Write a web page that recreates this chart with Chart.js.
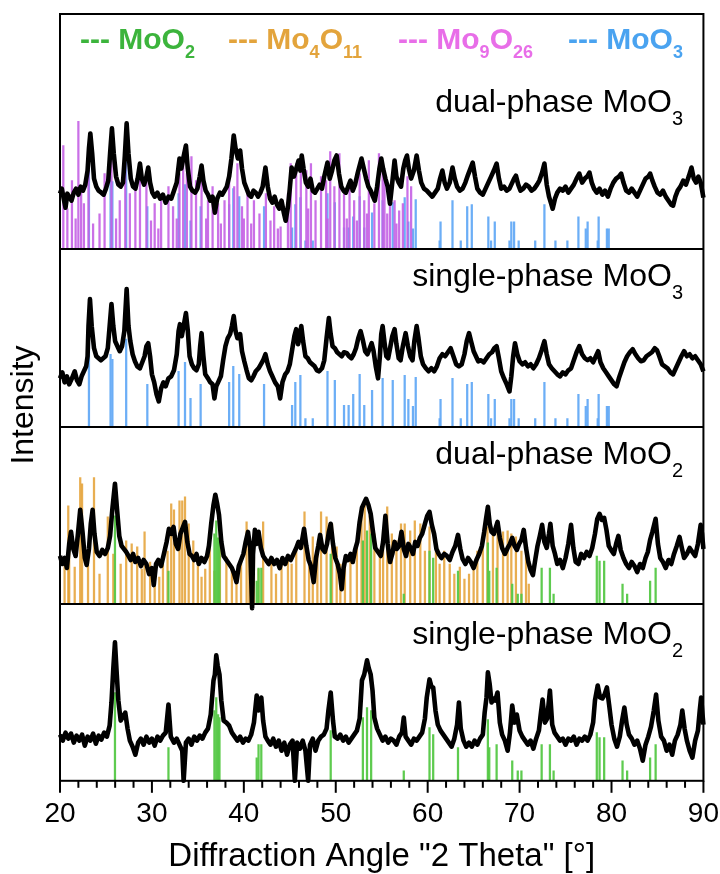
<!DOCTYPE html>
<html>
<head>
<meta charset="utf-8">
<script src="https://cdn.jsdelivr.net/npm/chart.js@4.4.0/dist/chart.umd.min.js"></script>
<style>
 html, body { margin: 0; padding: 0; background: #fff; }
</style>
</head>
<body>
<canvas id="xrd" width="720" height="874"></canvas>
<script>
// 2-theta tick labels
const angleTicks = [20, 30, 40, 50, 60, 70, 80, 90];

// panel names, top to bottom (_n = subscript)
const panelLabels = ['dual-phase MoO_3', 'single-phase MoO_3', 'dual-phase MoO_2', 'single-phase MoO_2'];
// reference phases for the legend
const phaseNames = ['MoO_2', 'Mo_4O_11', 'Mo_9O_26', 'MoO_3'];
const phaseColors = ['#3cb43c', '#e3a43c', '#e86ee8', '#4aa3f0'];
const stickColors = ['rgba(85,200,70,0.95)', 'rgba(228,160,50,0.85)', 'rgba(196,96,228,0.9)', 'rgba(100,170,245,0.95)'];

// measured patterns [2theta, intensity]
const dualMoO3 = [[20.0,55],[20.2,60],[20.4,50],[20.6,41],[20.8,55],[21.0,52],[21.25,48],[21.5,56],[21.75,60],[22.0,54],[22.25,62],[22.5,58],[22.75,64],[23.0,78],[23.15,100],[23.3,115],[23.5,95],[23.7,70],[23.95,62],[24.2,58],[24.5,56],[24.75,54],[25.0,60],[25.25,68],[25.45,95],[25.65,120],[25.85,95],[26.1,72],[26.35,64],[26.6,62],[26.85,66],[27.05,92],[27.25,125],[27.45,95],[27.7,70],[27.95,62],[28.2,60],[28.45,70],[28.7,85],[28.9,70],[29.15,64],[29.4,72],[29.6,81],[29.8,66],[30.05,56],[30.3,52],[30.6,56],[30.9,50],[31.2,54],[31.5,46],[31.8,52],[32.1,50],[32.4,58],[32.7,66],[33.0,90],[33.2,80],[33.45,92],[33.7,103],[33.9,80],[34.15,62],[34.4,58],[34.7,56],[34.95,60],[35.2,72],[35.4,83],[35.6,68],[35.85,58],[36.1,54],[36.35,48],[36.6,52],[36.85,36],[37.1,50],[37.4,56],[37.65,54],[37.9,58],[38.15,62],[38.4,72],[38.65,90],[38.9,113],[39.1,100],[39.35,90],[39.6,98],[39.8,80],[40.05,66],[40.3,60],[40.55,54],[40.8,52],[41.05,58],[41.3,56],[41.55,52],[41.8,56],[42.05,62],[42.35,81],[42.6,62],[42.85,50],[43.1,46],[43.35,52],[43.6,44],[43.85,40],[44.1,48],[44.35,36],[44.55,28],[44.8,42],[45.0,60],[45.2,81],[45.45,72],[45.7,80],[45.95,88],[46.15,78],[46.3,93],[46.5,80],[46.75,66],[47.0,62],[47.25,70],[47.5,58],[47.75,56],[48.0,60],[48.25,64],[48.5,60],[48.75,72],[49.1,86],[49.35,70],[49.6,78],[49.85,88],[50.1,93],[50.35,75],[50.6,62],[50.85,58],[51.1,56],[51.35,62],[51.6,68],[51.85,58],[52.1,64],[52.4,76],[52.8,90],[53.05,80],[53.3,70],[53.55,62],[53.8,58],[54.05,52],[54.25,48],[54.5,62],[54.75,80],[54.95,90],[55.15,80],[55.4,70],[55.65,62],[55.9,45],[56.1,62],[56.4,88],[56.6,72],[56.85,66],[57.1,62],[57.35,80],[57.55,88],[57.75,93],[57.95,80],[58.2,70],[58.5,78],[58.8,93],[59.05,78],[59.3,66],[59.6,60],[59.9,58],[60.2,55],[60.5,52],[60.8,56],[61.1,60],[61.35,70],[61.6,78],[61.85,66],[62.1,60],[62.4,66],[62.7,81],[62.95,70],[63.2,62],[63.5,58],[63.8,60],[64.1,66],[64.4,74],[64.65,80],[64.9,86],[65.15,72],[65.4,60],[65.7,56],[66.0,54],[66.3,60],[66.6,66],[66.9,72],[67.2,78],[67.5,85],[67.75,70],[68.0,60],[68.3,62],[68.6,58],[68.9,60],[69.2,66],[69.4,70],[69.6,73],[69.85,64],[70.1,58],[70.4,60],[70.7,64],[71.0,62],[71.3,58],[71.6,60],[71.9,64],[72.15,68],[72.45,76],[72.7,85],[72.95,64],[73.2,52],[73.4,46],[73.6,40],[73.85,50],[74.1,56],[74.4,60],[74.7,58],[75.0,62],[75.3,56],[75.6,60],[75.9,64],[76.2,70],[76.5,75],[76.8,66],[77.1,70],[77.35,72],[77.6,76],[77.85,66],[78.1,60],[78.4,56],[78.7,60],[79.0,54],[79.3,58],[79.6,52],[79.9,60],[80.2,66],[80.5,70],[80.8,72],[81.05,75],[81.3,66],[81.6,58],[81.9,56],[82.2,60],[82.5,56],[82.8,52],[83.1,58],[83.4,64],[83.7,70],[84.0,72],[84.2,75],[84.45,68],[84.7,62],[85.0,56],[85.3,54],[85.6,58],[85.9,52],[86.2,48],[86.5,44],[86.7,43],[86.95,52],[87.2,58],[87.5,62],[87.8,68],[88.1,64],[88.4,72],[88.7,81],[88.95,70],[89.2,66],[89.45,72],[89.7,66],[90.0,51]];

const singleMoO3 = [[20.0,48],[20.25,54],[20.5,44],[20.75,50],[21.0,42],[21.3,48],[21.6,55],[21.85,46],[22.1,42],[22.35,50],[22.6,55],[22.85,60],[23.0,70],[23.1,100],[23.26,127],[23.45,100],[23.7,78],[23.95,70],[24.2,68],[24.45,66],[24.7,68],[24.95,70],[25.2,78],[25.4,100],[25.6,122],[25.8,100],[26.0,85],[26.25,80],[26.5,75],[26.75,80],[27.0,95],[27.25,137],[27.45,100],[27.65,85],[27.9,72],[28.15,65],[28.4,60],[28.7,58],[28.95,64],[29.2,70],[29.4,80],[29.6,83],[29.8,70],[30.0,52],[30.25,44],[30.5,32],[30.75,25],[31.0,38],[31.25,44],[31.5,40],[31.8,48],[32.1,50],[32.4,56],[32.7,72],[32.9,95],[33.05,102],[33.25,90],[33.45,100],[33.7,113],[33.9,96],[34.1,70],[34.35,62],[34.6,58],[34.85,56],[35.1,62],[35.25,80],[35.4,93],[35.6,70],[35.8,52],[36.1,48],[36.35,44],[36.6,42],[36.8,28],[37.0,40],[37.25,45],[37.5,50],[37.75,66],[38.0,80],[38.25,88],[38.5,92],[38.7,100],[38.9,110],[39.1,95],[39.3,88],[39.5,90],[39.6,92],[39.8,75],[40.05,65],[40.3,56],[40.55,48],[40.8,46],[41.05,50],[41.3,55],[41.6,58],[41.85,62],[42.1,66],[42.35,72],[42.6,62],[42.85,55],[43.1,50],[43.4,44],[43.7,40],[43.95,28],[44.2,44],[44.5,52],[44.75,55],[45.0,62],[45.25,76],[45.5,90],[45.7,97],[45.9,82],[46.05,88],[46.25,100],[46.45,85],[46.7,70],[46.95,68],[47.2,64],[47.45,62],[47.7,60],[47.95,56],[48.2,55],[48.5,58],[48.75,66],[49.0,88],[49.25,108],[49.45,92],[49.65,80],[49.9,78],[50.15,74],[50.4,72],[50.65,70],[50.9,74],[51.2,73],[51.45,70],[51.7,68],[51.95,72],[52.2,78],[52.45,88],[52.7,95],[52.95,86],[53.2,75],[53.45,72],[53.7,78],[53.9,83],[54.1,76],[54.35,60],[54.6,48],[54.8,70],[54.95,92],[55.1,100],[55.3,84],[55.5,70],[55.7,68],[55.95,80],[56.15,90],[56.4,97],[56.6,82],[56.85,68],[57.05,66],[57.3,80],[57.6,93],[57.85,80],[58.1,70],[58.35,66],[58.55,85],[58.8,100],[59.0,88],[59.25,70],[59.5,62],[59.8,58],[60.1,55],[60.4,58],[60.7,55],[61.0,60],[61.3,68],[61.6,72],[61.9,70],[62.2,74],[62.5,78],[62.8,70],[63.1,62],[63.4,60],[63.7,62],[64.0,72],[64.25,85],[64.5,93],[64.75,84],[65.0,75],[65.25,70],[65.5,65],[65.8,66],[66.1,64],[66.4,68],[66.7,72],[67.0,74],[67.25,78],[67.5,80],[67.75,68],[68.0,55],[68.3,48],[68.6,42],[68.9,35],[69.1,50],[69.3,70],[69.5,83],[69.75,72],[70.0,65],[70.3,62],[70.6,64],[70.9,60],[71.2,62],[71.5,58],[71.8,62],[72.1,68],[72.4,76],[72.7,85],[72.95,72],[73.2,62],[73.5,58],[73.8,55],[74.1,52],[74.4,50],[74.7,54],[75.0,52],[75.3,56],[75.6,58],[75.9,66],[76.2,74],[76.5,80],[76.8,72],[77.1,68],[77.4,66],[77.7,68],[78.0,64],[78.3,70],[78.55,75],[78.8,64],[79.1,58],[79.4,54],[79.7,50],[80.0,46],[80.3,42],[80.55,40],[80.8,48],[81.1,56],[81.4,64],[81.7,70],[82.0,74],[82.3,77],[82.6,72],[82.9,68],[83.2,65],[83.5,66],[83.8,70],[84.1,72],[84.4,74],[84.7,78],[84.95,76],[85.2,70],[85.5,62],[85.8,60],[86.1,58],[86.4,54],[86.7,52],[87.0,58],[87.3,64],[87.6,70],[87.9,75],[88.2,70],[88.5,72],[88.8,68],[89.1,70],[89.4,66],[89.7,62],[90.0,55]];

const dualMoO2 = [[20.0,48],[20.25,40],[20.5,46],[20.75,36],[21.0,60],[21.2,72],[21.45,55],[21.7,48],[21.95,70],[22.2,94],[22.45,72],[22.7,46],[22.9,39],[23.15,55],[23.35,80],[23.55,94],[23.75,70],[24.0,52],[24.3,48],[24.6,54],[24.9,50],[25.2,56],[25.45,68],[25.7,95],[25.98,120],[26.2,95],[26.45,68],[26.7,58],[26.95,55],[27.2,52],[27.45,48],[27.7,44],[27.95,50],[28.2,42],[28.5,46],[28.8,38],[29.1,44],[29.4,40],[29.7,30],[30.0,36],[30.2,19],[30.45,40],[30.7,44],[31.0,38],[31.3,50],[31.6,62],[31.85,75],[32.1,70],[32.35,77],[32.6,60],[32.85,55],[33.1,70],[33.35,76],[33.6,82],[33.85,62],[34.1,50],[34.35,48],[34.6,44],[34.85,50],[35.1,40],[35.4,46],[35.7,42],[36.0,48],[36.2,58],[36.45,80],[36.7,99],[36.9,109],[37.1,100],[37.3,89],[37.55,62],[37.8,48],[38.1,44],[38.4,40],[38.7,36],[38.95,30],[39.2,22],[39.45,38],[39.7,44],[39.95,50],[40.2,62],[40.45,72],[40.7,56],[40.9,-4],[41.0,50],[41.2,74],[41.4,60],[41.6,72],[41.85,56],[42.1,48],[42.4,44],[42.7,40],[43.0,46],[43.3,40],[43.6,44],[43.9,36],[44.2,46],[44.5,40],[44.8,48],[45.1,44],[45.4,50],[45.7,56],[45.95,62],[46.2,56],[46.55,75],[46.8,58],[47.05,44],[47.3,38],[47.6,22],[47.85,46],[48.1,58],[48.3,69],[48.55,55],[48.8,52],[49.05,60],[49.25,72],[49.45,80],[49.7,60],[49.95,46],[50.2,40],[50.45,30],[50.65,15],[50.85,36],[51.1,48],[51.35,44],[51.6,50],[51.85,42],[52.1,54],[52.35,62],[52.6,82],[52.85,96],[53.05,100],[53.3,105],[53.55,99],[53.8,90],[54.05,72],[54.3,56],[54.6,52],[54.9,48],[55.15,62],[55.4,88],[55.65,60],[55.9,42],[56.15,50],[56.4,62],[56.65,55],[56.9,58],[57.15,72],[57.4,55],[57.65,48],[57.9,60],[58.15,56],[58.4,50],[58.65,62],[58.9,58],[59.15,66],[59.4,70],[59.7,80],[59.95,88],[60.2,92],[60.45,79],[60.7,70],[60.95,55],[61.2,50],[61.5,46],[61.8,50],[62.1,48],[62.4,44],[62.7,52],[63.0,58],[63.3,69],[63.55,55],[63.8,45],[64.1,40],[64.4,46],[64.7,42],[65.0,36],[65.3,44],[65.6,50],[65.9,58],[66.15,72],[66.35,85],[66.55,97],[66.75,80],[66.95,72],[67.2,70],[67.4,76],[67.6,82],[67.85,66],[68.1,56],[68.4,50],[68.7,56],[68.95,60],[69.2,66],[69.45,58],[69.7,54],[69.95,60],[70.2,64],[70.45,74],[70.7,56],[70.95,42],[71.2,34],[71.45,29],[71.7,44],[71.95,58],[72.2,68],[72.45,79],[72.7,62],[72.95,56],[73.2,70],[73.35,80],[73.6,58],[73.85,50],[74.1,40],[74.4,44],[74.7,36],[75.0,46],[75.3,60],[75.6,79],[75.85,56],[76.1,42],[76.4,40],[76.7,50],[77.0,46],[77.3,52],[77.6,48],[77.9,56],[78.2,70],[78.45,85],[78.7,90],[78.95,84],[79.2,86],[79.45,74],[79.7,58],[79.95,54],[80.25,50],[80.5,60],[80.75,68],[81.0,54],[81.3,46],[81.6,40],[81.9,36],[82.2,42],[82.5,38],[82.8,32],[83.1,40],[83.4,36],[83.7,46],[83.95,52],[84.2,64],[84.45,72],[84.8,85],[85.05,60],[85.3,46],[85.6,42],[85.9,36],[86.2,44],[86.5,40],[86.8,50],[87.1,58],[87.4,67],[87.65,56],[87.9,46],[88.2,50],[88.5,56],[88.8,52],[89.1,48],[89.4,60],[89.7,79],[89.85,70],[90.0,55]];

const singleMoO2 = [[20.0,46],[20.3,40],[20.6,48],[20.9,42],[21.2,47],[21.5,38],[21.8,45],[22.1,40],[22.4,46],[22.7,35],[23.0,44],[23.3,40],[23.6,47],[23.9,37],[24.2,45],[24.5,41],[24.8,48],[25.1,44],[25.4,55],[25.6,78],[25.8,112],[25.98,138],[26.15,110],[26.35,80],[26.6,60],[26.85,64],[27.1,68],[27.35,52],[27.6,40],[27.9,34],[28.2,26],[28.5,38],[28.8,42],[29.1,36],[29.4,44],[29.7,38],[30.0,42],[30.3,35],[30.6,44],[30.9,40],[31.2,45],[31.5,48],[31.8,76],[32.05,44],[32.4,38],[32.7,42],[33.0,36],[33.3,30],[33.45,0],[33.7,38],[34.0,42],[34.3,36],[34.6,44],[34.9,40],[35.2,45],[35.5,42],[35.8,48],[36.1,52],[36.4,66],[36.7,100],[36.85,106],[37.0,125],[37.15,115],[37.35,106],[37.55,80],[37.8,60],[38.1,58],[38.4,55],[38.7,48],[39.0,44],[39.3,40],[39.6,44],[39.9,38],[40.2,42],[40.5,40],[40.8,46],[41.1,58],[41.4,85],[41.6,70],[41.75,74],[41.9,83],[42.1,60],[42.35,44],[42.6,40],[42.9,36],[43.2,42],[43.5,34],[43.8,40],[44.1,30],[44.4,38],[44.7,26],[45.0,36],[45.3,40],[45.55,0],[45.8,38],[46.1,32],[46.4,40],[46.7,30],[47.0,0],[47.2,36],[47.5,42],[47.8,30],[48.1,40],[48.4,44],[48.7,46],[49.0,52],[49.2,70],[49.45,88],[49.7,60],[49.9,44],[50.2,42],[50.5,46],[50.8,40],[51.1,44],[51.4,38],[51.7,42],[52.0,46],[52.3,50],[52.6,62],[52.85,100],[53.1,106],[53.4,120],[53.6,112],[53.8,106],[54.0,90],[54.2,63],[54.5,52],[54.8,46],[55.1,40],[55.4,44],[55.7,38],[56.0,42],[56.3,40],[56.6,36],[56.9,44],[57.2,48],[57.4,63],[57.6,44],[57.9,40],[58.2,36],[58.5,42],[58.8,40],[59.1,44],[59.4,48],[59.7,62],[59.9,83],[60.2,101],[60.4,94],[60.6,93],[60.85,70],[61.1,56],[61.4,50],[61.7,46],[62.0,42],[62.3,38],[62.6,34],[62.9,42],[63.2,56],[63.4,78],[63.6,52],[63.9,40],[64.2,34],[64.5,38],[64.8,34],[65.1,40],[65.4,36],[65.7,42],[66.0,46],[66.2,68],[66.4,83],[66.55,108],[66.75,96],[66.95,78],[67.15,82],[67.35,80],[67.6,88],[67.85,58],[68.1,46],[68.4,40],[68.7,30],[68.95,48],[69.2,75],[69.45,58],[69.7,66],[70.0,50],[70.3,44],[70.6,40],[70.9,36],[71.2,40],[71.5,32],[71.8,42],[72.1,50],[72.3,66],[72.5,81],[72.75,58],[73.0,62],[73.3,90],[73.55,56],[73.8,48],[74.1,44],[74.4,40],[74.7,42],[75.0,36],[75.3,42],[75.6,40],[75.9,44],[76.2,36],[76.5,42],[76.8,40],[77.1,44],[77.4,40],[77.7,46],[78.0,58],[78.2,80],[78.5,95],[78.75,83],[79.0,82],[79.25,86],[79.5,93],[79.75,75],[80.0,56],[80.3,42],[80.6,34],[80.9,44],[81.15,60],[81.4,73],[81.65,56],[81.9,46],[82.2,42],[82.5,36],[82.8,40],[83.1,32],[83.4,20],[83.7,36],[84.0,44],[84.3,54],[84.6,70],[84.85,86],[85.1,60],[85.4,44],[85.7,40],[86.0,30],[86.3,36],[86.6,26],[86.9,40],[87.2,46],[87.5,56],[87.7,70],[87.95,52],[88.2,40],[88.5,30],[88.8,23],[89.1,40],[89.4,50],[89.6,70],[89.75,83],[89.9,66],[90.0,56]];

// reference stick patterns [2theta, relative height]
const refMoO2 = [[25.98,88],[31.8,33],[36.8,70],[37.0,83],[37.2,66],[37.35,63],[41.4,23],[41.6,36],[41.9,36],[49.45,50],[52.95,63],[53.4,73],[53.85,70],[57.4,10],[60.2,53],[60.6,46],[63.3,33],[66.55,61],[66.7,33],[67.5,36],[69.2,20],[69.8,10],[70.2,10],[72.4,36],[73.3,36],[73.7,10],[78.4,48],[78.7,43],[79.2,43],[81.2,20],[81.7,10],[84.2,23],[84.8,36]];

const refMo4O11 = [[20.5,40],[20.9,98],[21.0,72],[21.6,37],[22.2,126],[22.4,120],[23.05,47],[23.7,126],[24.3,30],[25.2,87],[25.8,50],[26.6,40],[27.2,63],[27.8,60],[28.4,57],[28.9,35],[29.2,72],[29.8,42],[30.3,30],[30.8,27],[31.2,40],[31.7,53],[32.1,100],[32.4,94],[33.0,103],[33.3,103],[33.6,107],[34.0,80],[34.5,63],[35.0,45],[35.4,27],[35.8,35],[36.3,60],[36.8,33],[37.4,80],[38.1,47],[38.7,37],[39.2,30],[39.7,47],[40.3,82],[40.6,63],[41.1,47],[41.6,35],[42.1,82],[43.0,47],[43.5,30],[44.1,40],[44.8,47],[45.2,40],[45.7,57],[46.6,92],[47.1,45],[47.5,67],[48.0,50],[48.4,92],[49.0,87],[49.6,80],[50.1,57],[50.5,40],[51.0,37],[51.6,45],[52.3,63],[52.8,90],[53.15,100],[53.7,88],[54.2,70],[54.8,53],[55.15,73],[55.6,97],[56.1,70],[56.6,63],[57.1,80],[57.5,80],[58.1,73],[58.6,83],[59.2,80],[59.7,53],[60.2,77],[60.9,53],[61.3,40],[61.8,53],[62.4,40],[62.9,30],[63.5,37],[64.0,25],[64.5,30],[65.0,35],[65.4,53],[66.0,63],[66.5,77],[67.1,70],[67.6,73],[68.2,72],[68.7,73],[69.1,70],[69.6,67],[70.2,53],[70.7,53],[71.0,20]];

const refMo9O26 = [[20.36,103],[20.8,40],[21.3,68],[21.7,30],[22.0,127],[22.3,62],[22.6,45],[23.1,82],[23.6,25],[24.3,35],[24.85,75],[25.6,98],[26.1,30],[26.5,48],[27.1,85],[27.6,55],[28.2,65],[28.7,82],[29.4,75],[29.9,28],[30.3,45],[30.7,20],[31.0,48],[31.8,62],[32.3,42],[32.7,30],[33.0,75],[33.4,88],[33.8,75],[34.3,92],[34.8,68],[35.4,78],[35.9,30],[36.1,48],[36.6,62],[37.2,45],[37.5,25],[37.9,48],[38.4,72],[38.95,62],[39.3,85],[39.8,42],[40.0,30],[40.4,55],[40.8,25],[41.1,48],[41.7,35],[42.4,55],[42.9,28],[43.3,42],[43.7,20],[44.0,22],[44.8,55],[45.1,85],[45.7,85],[46.2,82],[46.8,78],[47.0,40],[47.3,85],[47.8,48],[48.4,72],[48.95,68],[49.1,30],[49.4,97],[49.85,62],[50.4,95],[50.9,55],[51.2,30],[51.5,68],[52.0,48],[52.3,28],[52.6,75],[53.1,48],[53.4,35],[53.6,88],[54.2,45],[54.7,95],[55.1,82],[55.3,78],[55.6,35],[55.9,62],[56.4,48],[56.6,25],[56.9,38],[57.3,45],[57.8,72],[58.2,62]];

const refMoO3 = [[23.15,83],[25.5,72],[25.7,67],[27.2,87],[29.5,42],[32.9,55],[33.6,64],[34.2,28],[35.3,42],[38.4,44],[38.85,60],[39.5,52],[42.2,42],[45.25,21],[45.6,44],[46.15,51],[46.7,8],[47.5,8],[49.1,55],[49.9,46],[50.9,21],[51.4,21],[51.9,32],[52.6,52],[53.1,21],[53.95,36],[55.1,48],[56.2,46],[57.5,51],[57.9,27],[58.4,20],[58.7,49],[61.3,8],[61.4,27],[62.7,48],[63.6,8],[64.3,42],[64.8,44],[66.6,32],[66.9,8],[67.3,27],[68.9,8],[69.1,27],[69.4,27],[69.9,8],[71.7,8],[72.7,44],[73.9,8],[75.2,8],[76.4,32],[77.2,20],[77.4,27],[78.5,8],[78.6,32],[79.5,20],[79.7,20]];

// panel heights (same units as the intensities)
const panelSpan = [234, 177, 177, 176];

const FONT = '"Liberation Sans", Arial, sans-serif';
const toXY = arr => arr.map(p => ({ x: p[0], y: p[1] }));

function pattern(data, axis) {
  return { type: 'line', data: toXY(data), yAxisID: axis, borderColor: '#000', borderWidth: 4.6,
    pointRadius: 0, tension: 0, order: 0, clip: false, borderJoinStyle: 'round' };
}
function sticks(data, axis, phase, order) {
  return { type: 'bar', data: toXY(data), yAxisID: axis, backgroundColor: stickColors[phase],
    barThickness: 1.6, grouped: false, order: order, borderWidth: 0 };
}

const datasets = [
  pattern(dualMoO3, 'y1'), pattern(singleMoO3, 'y2'), pattern(dualMoO2, 'y3'), pattern(singleMoO2, 'y4'),
  sticks(refMo9O26, 'y1', 2, 1), sticks(refMoO3, 'y1', 3, 2),
  sticks(refMoO3, 'y2', 3, 2),
  sticks(refMoO2, 'y3', 0, 1), sticks(refMo4O11, 'y3', 1, 2),
  sticks(refMoO2, 'y4', 0, 1)
];

function yAxis(i) {
  return { type: 'linear', position: 'left', stack: 'xrd', stackWeight: panelSpan[i], weight: 4 - i,
    min: 0, max: panelSpan[i], offset: false, display: true,
    grid: { display: false, drawTicks: false }, border: { display: false },
    ticks: { display: false }, title: { display: false } };
}

// draws formula text with subscripts written as _n
function formula(c, text, x, y, size, subSize, drop, weight, color, rightAlign) {
  const parts = text.split(/_(\d+)/);
  const fonts = parts.map((p, k) => weight + ' ' + (k % 2 ? subSize : size) + 'px ' + FONT);
  let total = 0;
  parts.forEach((p, k) => { c.font = fonts[k]; total += c.measureText(p).width; });
  let cx = rightAlign ? x - total : x;
  c.fillStyle = color;
  c.textBaseline = 'alphabetic';
  c.textAlign = 'left';
  parts.forEach((p, k) => {
    c.font = fonts[k];
    c.fillText(p, cx, k % 2 ? y + drop : y);
    cx += c.measureText(p).width;
  });
}

const decor = {
  id: 'decor',
  afterDatasetsDraw(chart) {
    const c = chart.ctx, a = chart.chartArea, xs = chart.scales.x;
    c.save();
    c.strokeStyle = '#000';
    c.lineWidth = 2;
    c.strokeRect(a.left, a.top, a.right - a.left, a.bottom - a.top);
    ['y1', 'y2', 'y3'].forEach(id => {
      const yb = Math.round(chart.scales[id].bottom);
      c.beginPath(); c.moveTo(a.left, yb); c.lineTo(a.right, yb); c.stroke();
    });
    for (let v = 20; v <= 90; v += 2) {
      const px = xs.getPixelForValue(v);
      const len = v % 10 === 0 ? 12 : 7;
      c.beginPath(); c.moveTo(px, a.bottom); c.lineTo(px, a.bottom + len); c.stroke();
    }
    // legend of reference phases
    const legendX = [80, 228, 398, 568];
    phaseNames.forEach((n, i) => formula(c, '--- ' + n, legendX[i], 49, 30, 18, 9, 'bold', phaseColors[i], false));
    // panel labels
    const drops = [98, 37, 37, 40];
    panelLabels.forEach((t, i) => {
      const top = chart.scales['y' + (i + 1)].top;
      formula(c, t, 683, top + drops[i], 32, 20, 13, 'normal', '#000', true);
    });
    // y title
    c.translate(24, 405);
    c.rotate(-Math.PI / 2);
    c.font = '32px ' + FONT;
    c.textAlign = 'center';
    c.textBaseline = 'middle';
    c.fillStyle = '#000';
    c.fillText('Intensity', 0, 0);
    c.restore();
  }
};

new Chart(document.getElementById('xrd').getContext('2d'), {
  type: 'line',
  data: { datasets: datasets },
  plugins: [decor],
  options: {
    responsive: false,
    animation: false,
    events: [],
    layout: { padding: { left: 60, right: 0, top: 14, bottom: 0 } },
    plugins: { legend: { display: false }, tooltip: { enabled: false } },
    scales: {
      x: {
        type: 'linear', min: 20, max: 90, offset: false,
        afterBuildTicks: s => { s.ticks = angleTicks.map(v => ({ value: v })); },
        grid: { display: false, drawTicks: true, tickLength: 16 }, border: { display: false },
        ticks: { color: '#000', padding: 1, maxRotation: 0, font: { family: FONT, size: 28 } },
        title: { display: true, text: 'Diffraction Angle "2 Theta" [°]', color: '#000',
          font: { family: FONT, size: 33 }, padding: { top: 5, bottom: -3 } }
      },
      y1: yAxis(0), y2: yAxis(1), y3: yAxis(2), y4: yAxis(3)
    }
  }
});
</script>
</body>
</html>
